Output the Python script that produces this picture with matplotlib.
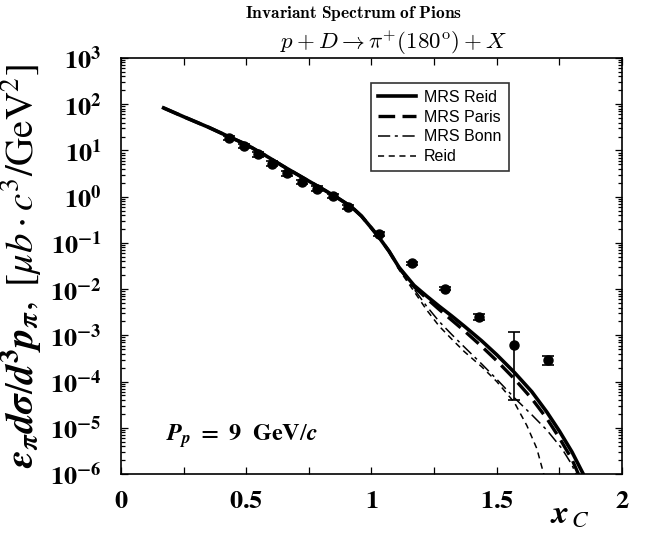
import numpy as np
import matplotlib
matplotlib.use("Agg")
import matplotlib.pyplot as plt
from matplotlib.ticker import MultipleLocator, FixedLocator, FuncFormatter, LogLocator, NullFormatter

plt.rcParams['mathtext.fontset'] = 'stix'
plt.rcParams['font.family'] = 'serif'

# measured invariant cross sections (data points)
x_data = [0.433, 0.492, 0.545, 0.604, 0.663, 0.723, 0.783, 0.847, 0.908,
          1.031, 1.163, 1.293, 1.428, 1.567, 1.705]
y_data = [18.8, 12.6, 8.2, 5.2, 3.2, 2.07, 1.5, 1.05, 0.6,
          0.153, 0.036, 0.0102, 0.0025, 6.2e-4, 2.9e-4]
y_err_lo = [2.0, 1.4, 0.9, 0.6, 0.35, 0.22, 0.16, 0.11, 0.06,
            0.015, 0.003, 0.0008, 0.0004, 5.8e-4, 0.6e-4]
y_err_hi = [2.0, 1.4, 0.9, 0.6, 0.35, 0.22, 0.16, 0.11, 0.06,
            0.015, 0.003, 0.0008, 0.0004, 5.8e-4, 0.7e-4]

# common part of the model curves (log10 of the cross section)
x_common = [0.17, 0.25, 0.35, 0.43, 0.50, 0.58, 0.65, 0.72, 0.80, 0.86,
            0.92, 0.96, 1.00, 1.03, 1.07]
lg_common = [1.92, 1.73, 1.50, 1.30, 1.13, 0.88, 0.65, 0.43, 0.18, -0.01,
             -0.22, -0.42, -0.68, -0.88, -1.18]

# high x_C tails of each calculation
x_mrs_reid = [1.11, 1.17, 1.22, 1.27, 1.32, 1.37, 1.44, 1.50, 1.57, 1.64, 1.70, 1.75, 1.80, 1.85]
lg_mrs_reid = [-1.53, -1.92, -2.15, -2.37, -2.58, -2.80, -3.12, -3.42, -3.80, -4.22, -4.66, -5.07, -5.52, -6.05]

x_mrs_paris = [1.11, 1.17, 1.22, 1.27, 1.32, 1.37, 1.44, 1.50, 1.57, 1.64, 1.70, 1.75, 1.80, 1.83]
lg_mrs_paris = [-1.54, -1.95, -2.20, -2.44, -2.67, -2.90, -3.24, -3.55, -3.94, -4.37, -4.80, -5.22, -5.68, -6.05]

x_mrs_bonn = [1.11, 1.17, 1.22, 1.27, 1.32, 1.37, 1.44, 1.50, 1.57, 1.64, 1.70, 1.76, 1.80, 1.82]
lg_mrs_bonn = [-1.56, -2.00, -2.37, -2.70, -2.98, -3.25, -3.62, -3.95, -4.35, -4.72, -5.05, -5.45, -5.80, -6.05]

x_reid = [1.11, 1.17, 1.22, 1.27, 1.32, 1.37, 1.44, 1.50, 1.57, 1.62, 1.66, 1.69]
lg_reid = [-1.58, -2.05, -2.45, -2.80, -3.08, -3.35, -3.68, -4.00, -4.45, -4.95, -5.45, -6.05]

labels = ["MRS Reid", "MRS Paris", "MRS Bonn", "Reid"]


fig = plt.figure(figsize=(6.48, 5.37), dpi=100)
ax = fig.add_axes([0.1867, 0.1173, 0.7732, 0.7747])

styles = [
    dict(color='black', lw=2.6, ls='-'),
    dict(color='black', lw=2.4, ls=(0, (5, 2.2))),
    dict(color='black', lw=1.1, ls=(0, (8, 3, 2, 3))),
    dict(color='black', lw=1.1, ls=(0, (4, 3))),
]
tails = [(x_mrs_reid, lg_mrs_reid), (x_mrs_paris, lg_mrs_paris),
         (x_mrs_bonn, lg_mrs_bonn), (x_reid, lg_reid)]
for (xt, lt), st, lab in zip(tails, styles, labels):
    xs = np.array(x_common + xt)
    ys = 10.0 ** np.array(lg_common + lt)
    ax.plot(xs, ys, label=lab, **st)

ax.errorbar(x_data, y_data, yerr=[y_err_lo, y_err_hi], fmt='o', color='black',
            ms=6.5, capsize=4, elinewidth=1.2, capthick=1.2, zorder=5)

ax.set_yscale('log')
ax.set_xlim(0, 2)
ax.set_ylim(1e-6, 1e3)

ax.xaxis.set_major_locator(MultipleLocator(0.5))
ax.xaxis.set_minor_locator(FixedLocator([0.25, 0.75, 1.25, 1.75]))
ax.xaxis.set_major_formatter(FuncFormatter(
    lambda v, p: r"$\mathbf{%s}$" % ("%g" % v)))
ax.yaxis.set_major_locator(LogLocator(base=10, numticks=20))
ax.yaxis.set_minor_locator(LogLocator(base=10, subs=np.arange(2, 10), numticks=20))
ax.yaxis.set_minor_formatter(NullFormatter())
ax.yaxis.set_major_formatter(FuncFormatter(
    lambda v, p: r"$\mathbf{10}^{\mathbf{%d}}$" % int(round(np.log10(v)))))

ax.tick_params(which='both', direction='in', top=True, right=True, width=0.9)
ax.tick_params(which='major', length=5, labelsize=19)
ax.tick_params(axis='y', which='major', pad=14)
ax.tick_params(axis='x', which='major', pad=10)
ax.tick_params(which='minor', length=3)
ax.tick_params(axis='x', which='minor', length=5)
for s in ax.spines.values():
    s.set_linewidth(1.2)

ax.set_ylabel(r"$\boldsymbol{\epsilon}_{\boldsymbol{\pi}}\mathbfit{d}\boldsymbol{\sigma}/"
              r"\mathbfit{d}^{\mathbf{3}}\mathbfit{p}_{\boldsymbol{\pi}},\ "
              r"[\mu b \cdot c^3/\mathrm{GeV}^2]$",
              fontsize=28, labelpad=4)
ax.text(0.896, -0.094, r"$\mathbfit{x}_{\,C}$", transform=ax.transAxes, fontsize=24,
        ha='center', va='center')

fig.text(0.545, 0.975, r"$\mathbf{Invariant\ Spectrum\ of\ Pions}$", ha='center',
         va='center', fontsize=12.5, math_fontfamily='cm')
fig.text(0.607, 0.92, r"$p + D \rightarrow \pi^{+}(180^{\rm o}) + X$", ha='center',
         va='center', fontsize=16.5, math_fontfamily='cm')

ax.text(0.09, 0.09, r"$\mathbfit{P}_{\mathbfit{p}}\mathbf{\ =\ 9\ \ GeV}/\mathbfit{c}$",
        transform=ax.transAxes, fontsize=17.5, ha='left', va='center')

leg = ax.legend(loc='upper right', bbox_to_anchor=(0.79, 0.96), frameon=True,
                fancybox=False, edgecolor='black', handlelength=2.4,
                handletextpad=0.5, prop={'family': 'Liberation Sans', 'size': 11.5},
                borderpad=0.45, labelspacing=0.3)
leg.get_frame().set_linewidth(1.2)

fig.savefig("out.png", dpi=100)
